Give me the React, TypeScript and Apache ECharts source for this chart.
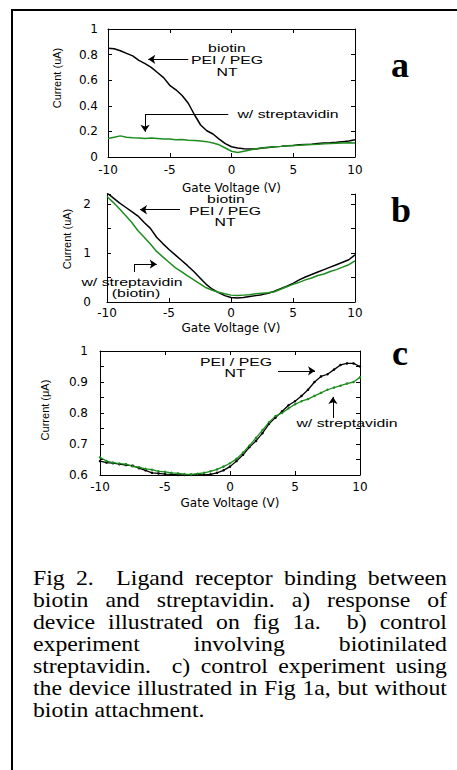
import React, { useEffect, useRef } from "react";
import * as echarts from "echarts";

// ---------- data ----------
const gateVoltage = [-10, -9.5, -9, -8.5, -8, -7.5, -7, -6.5, -6, -5.5, -5, -4.5, -4, -3.5, -3, -2.5, -2, -1.5, -1, -0.5, 0, 0.5, 1, 1.5, 2, 2.5, 3, 3.5, 4, 4.5, 5, 5.5, 6, 6.5, 7, 7.5, 8, 8.5, 9, 9.5, 10];

// panel a
const aBiotinPeiPegNT = [0.85, 0.845, 0.83, 0.81, 0.79, 0.755, 0.73, 0.7, 0.66, 0.62, 0.56, 0.525, 0.48, 0.42, 0.33, 0.25, 0.205, 0.18, 0.14, 0.105, 0.08, 0.07, 0.065, 0.062, 0.063, 0.07, 0.075, 0.08, 0.083, 0.087, 0.09, 0.095, 0.098, 0.1, 0.105, 0.11, 0.112, 0.115, 0.12, 0.125, 0.135];
const aWithStreptavidin = [0.145, 0.155, 0.165, 0.155, 0.15, 0.148, 0.145, 0.148, 0.145, 0.14, 0.14, 0.135, 0.137, 0.13, 0.128, 0.125, 0.12, 0.11, 0.095, 0.07, 0.045, 0.035, 0.045, 0.055, 0.065, 0.072, 0.077, 0.08, 0.083, 0.087, 0.09, 0.092, 0.095, 0.098, 0.1, 0.103, 0.105, 0.108, 0.11, 0.112, 0.11];

// panel b
const bBiotinPeiPegNT = [2.22, 2.12, 2.02, 1.93, 1.84, 1.75, 1.62, 1.5, 1.32, 1.19, 1.07, 0.96, 0.85, 0.74, 0.62, 0.49, 0.36, 0.26, 0.19, 0.13, 0.09, 0.08, 0.09, 0.11, 0.13, 0.15, 0.18, 0.22, 0.27, 0.32, 0.38, 0.45, 0.51, 0.56, 0.61, 0.66, 0.71, 0.76, 0.81, 0.86, 0.96];
const bWithStreptavidinBiotin = [2.15, 2.03, 1.9, 1.76, 1.62, 1.45, 1.32, 1.18, 1.03, 0.92, 0.81, 0.7, 0.62, 0.53, 0.45, 0.37, 0.29, 0.24, 0.2, 0.17, 0.14, 0.13, 0.14, 0.15, 0.17, 0.18, 0.19, 0.21, 0.26, 0.31, 0.36, 0.4, 0.45, 0.49, 0.54, 0.57, 0.62, 0.66, 0.71, 0.76, 0.84];

// panel c
const cPeiPegNT = [0.645, 0.64, 0.638, 0.635, 0.632, 0.63, 0.622, 0.615, 0.607, 0.605, 0.603, 0.602, 0.6, 0.6, 0.6, 0.601, 0.6, 0.602, 0.607, 0.615, 0.627, 0.645, 0.665, 0.69, 0.71, 0.735, 0.765, 0.785, 0.805, 0.825, 0.838, 0.855, 0.875, 0.9, 0.918, 0.925, 0.94, 0.955, 0.96, 0.96, 0.95];
const cWithStreptavidin = [0.657, 0.645, 0.64, 0.637, 0.635, 0.628, 0.625, 0.62, 0.617, 0.612, 0.61, 0.607, 0.605, 0.603, 0.602, 0.604, 0.607, 0.612, 0.618, 0.627, 0.638, 0.652, 0.672, 0.695, 0.72, 0.745, 0.77, 0.79, 0.8, 0.815, 0.828, 0.838, 0.845, 0.855, 0.865, 0.875, 0.882, 0.888, 0.895, 0.9, 0.915];

// annotation arrows, in data units: [x1, y1, x2, y2, arrowAtEnd]
const aArrows: [number, number, number, number, boolean][] = [
  [-3.5, 0.763, -6.74, 0.763, true],
  [-0.26, 0.333, -7.0, 0.333, false],
  [-7.0, 0.333, -7.0, 0.198, true],
];
const bArrows: [number, number, number, number, boolean][] = [
  [-4.11, 1.88, -7.34, 1.88, true],
  [-7.8, 0.61, -7.8, 0.77, false],
  [-7.8, 0.77, -5.99, 0.77, true],
];
const cArrows: [number, number, number, number, boolean][] = [
  [3.69, 0.936, 6.54, 0.936, true],
  [7.92, 0.784, 7.92, 0.852, true],
];

const captionLines = [
  "Fig 2.  Ligand receptor binding between",
  "biotin and streptavidin. a) response of",
  "device illustrated on fig 1a.  b) control",
  "experiment involving biotinilated",
  "streptavidin.  c) control experiment using",
  "the device illustrated in Fig 1a, but without",
  "biotin attachment.",
];

const xTitle = "Gate Voltage (V)";
const GREEN = "#1e8c1e";
const TICK_FONT = "DejaVu Sans";
const SANS = "Liberation Sans";
const SERIF = "Liberation Serif";

function pairs(ys: number[]) {
  return gateVoltage.map((x, i) => [x, ys[i]]);
}

function arrowData(list: [number, number, number, number, boolean][]) {
  return list.map(([x1, y1, x2, y2, head]) => [
    { coord: [x1, y1], symbol: "none" },
    { coord: [x2, y2], symbol: head ? "arrow" : "none" },
  ]);
}

function markLine(list: [number, number, number, number, boolean][]) {
  return {
    silent: true,
    symbol: ["none", "arrow"],
    symbolSize: [7, 7],
    label: { show: false },
    emphasis: { disabled: true },
    lineStyle: { color: "#000", width: 1, type: "solid" },
    data: arrowData(list),
  };
}

const lineAxis = { show: true, onZero: false, lineStyle: { color: "#000", width: 1 } };
const tickIn = { show: true, inside: true, length: 4, lineStyle: { color: "#000", width: 1 } };

function xBottom(gridIndex: number, margin: number, nameGap: number) {
  return {
    type: "value", gridIndex, min: -10, max: 10, interval: 5, position: "bottom",
    axisLine: lineAxis, axisTick: tickIn, splitLine: { show: false },
    axisLabel: { color: "#000", fontFamily: TICK_FONT, fontSize: 12, margin },
    name: xTitle, nameLocation: "middle", nameGap,
    nameTextStyle: { color: "#000", fontFamily: TICK_FONT, fontSize: 12 },
  };
}
function xTop(gridIndex: number) {
  return {
    type: "value", gridIndex, min: -10, max: 10, interval: 5, position: "top",
    axisLine: lineAxis, axisTick: tickIn, splitLine: { show: false }, axisLabel: { show: false },
  };
}
function yLeft(gridIndex: number, min: number, max: number, interval: number, margin: number, nameGap: number, name: string, shift: number, fmt?: (v: number) => string) {
  return {
    type: "value", gridIndex, min, max, interval, position: "left",
    axisLine: lineAxis, axisTick: tickIn, splitLine: { show: false },
    axisLabel: { color: "#000", fontFamily: TICK_FONT, fontSize: 12, margin, formatter: fmt },
    name, nameLocation: "middle", nameGap, nameRotate: 90,
    nameTextStyle: { color: "#000", fontFamily: SANS, fontSize: 11, padding: [0, 0, 0, shift] },
  };
}
function yRight(gridIndex: number, min: number, max: number, interval: number) {
  return {
    type: "value", gridIndex, min, max, interval, position: "right",
    axisLine: lineAxis, axisTick: tickIn, splitLine: { show: false }, axisLabel: { show: false },
  };
}

function annot(text: string, x: number, y: number) {
  return {
    type: "text", x, y, scaleX: 1.44, silent: true,
    style: {
      text, fill: "#000", fontFamily: SANS, fontSize: 11,
      textAlign: "center", textVerticalAlign: "middle", align: "center", verticalAlign: "middle",
    },
  };
}
function panelLetter(text: string, x: number, y: number) {
  return {
    type: "text", x, y, silent: true,
    style: {
      text, fill: "#000", fontFamily: SERIF, fontSize: 36, fontWeight: "bold",
      textAlign: "center", textVerticalAlign: "middle", align: "center", verticalAlign: "middle",
    },
  };
}

function captionElements() {
  const size = 22;
  const sx = 1.08;
  const left = 33;
  const right = 447;
  const firstBaseline = 585;
  const pitch = 22;
  const ctx = document.createElement("canvas").getContext("2d");
  const font = `${size}px "${SERIF}"`;
  if (ctx) ctx.font = font;
  const measure = (s: string) => (ctx ? ctx.measureText(s).width : s.length * size * 0.45) * sx;
  const els: any[] = [];
  captionLines.forEach((line, li) => {
    const y = firstBaseline + li * pitch - 7.5;
    const tokens = line.split(" ");
    const last = li === captionLines.length - 1;
    const widths = tokens.map((t) => (t ? measure(t) : 0));
    const sum = widths.reduce((a, b) => a + b, 0);
    const gaps = tokens.length - 1;
    const gap = last || gaps === 0 ? measure(" ") : (right - left - sum) / gaps;
    let x = left;
    tokens.forEach((t, i) => {
      if (t) {
        els.push({
          type: "text", x, y, scaleX: sx, silent: true,
          style: {
            text: t, fill: "#000", fontFamily: SERIF, fontSize: size,
            textAlign: "left", textVerticalAlign: "middle", align: "left", verticalAlign: "middle",
          },
        });
      }
      x += widths[i] + gap;
    });
  });
  return els;
}

export default function App() {
  const ref = useRef<HTMLDivElement>(null);
  useEffect(() => {
    if (!ref.current) return;
    const chart = echarts.init(ref.current, null, { renderer: "svg" });
    const fmtB = (v: number) => (Math.abs(v - Math.round(v)) < 1e-6 ? String(Math.round(v)) : "");
    const fmtC = (v: number) => {
      const t = Math.round(v * 100);
      if (t % 10 !== 0) return "";
      return t === 100 ? "1" : (t / 100).toFixed(1);
    };
    const option: any = {
      animation: false,
      backgroundColor: "#fff",
      grid: [
        { left: 108, top: 29, width: 247, height: 128 },
        { left: 107, top: 194, width: 248, height: 108 },
        { left: 100, top: 351, width: 260, height: 124 },
      ],
      xAxis: [xBottom(0, 7, 25), xTop(0), xBottom(1, 5, 20), xBottom(2, 6, 22), xTop(2)],
      yAxis: [
        yLeft(0, 0, 1, 0.2, 10, 46, "Current (uA)", 30),
        yRight(0, 0, 1, 0.2),
        yLeft(1, 0, 2.2, 0.5, 16, 35, "Current (uA)", 18, fmtB),
        yRight(1, 0, 2.2, 0.5),
        yLeft(2, 0.6, 1, 0.05, 12, 50, "Current (\u03bcA)", 6, fmtC),
        yRight(2, 0.6, 1, 0.05),
      ],
      series: [
        {
          name: "a: biotin PEI / PEG NT", type: "line", xAxisIndex: 0, yAxisIndex: 0,
          data: pairs(aBiotinPeiPegNT), showSymbol: false, lineStyle: { color: "#000", width: 1.5 },
          itemStyle: { color: "#000" }, markLine: markLine(aArrows),
        },
        {
          name: "a: w/ streptavidin", type: "line", xAxisIndex: 0, yAxisIndex: 0,
          data: pairs(aWithStreptavidin), showSymbol: false, lineStyle: { color: GREEN, width: 1.5 },
          itemStyle: { color: GREEN },
        },
        {
          name: "b: biotin PEI / PEG NT", type: "line", xAxisIndex: 2, yAxisIndex: 2,
          data: pairs(bBiotinPeiPegNT), showSymbol: false, lineStyle: { color: "#000", width: 1.5 },
          itemStyle: { color: "#000" }, markLine: markLine(bArrows),
        },
        {
          name: "b: w/ streptavidin (biotin)", type: "line", xAxisIndex: 2, yAxisIndex: 2,
          data: pairs(bWithStreptavidinBiotin), showSymbol: false, lineStyle: { color: GREEN, width: 1.5 },
          itemStyle: { color: GREEN },
        },
        {
          name: "c: PEI / PEG NT", type: "line", xAxisIndex: 3, yAxisIndex: 4,
          data: pairs(cPeiPegNT), showSymbol: true, symbol: "circle", symbolSize: 2.5,
          lineStyle: { color: "#000", width: 1.3 }, itemStyle: { color: "#000" }, markLine: markLine(cArrows),
        },
        {
          name: "c: w/ streptavidin", type: "line", xAxisIndex: 3, yAxisIndex: 4,
          data: pairs(cWithStreptavidin), showSymbol: true, symbol: "circle", symbolSize: 2.5,
          lineStyle: { color: GREEN, width: 1.3 }, itemStyle: { color: GREEN },
        },
      ],
      graphic: [
        {
          type: "rect", silent: true, z: -10,
          shape: { x: 12, y: 10, width: 520, height: 820 },
          style: { fill: "none", stroke: "#000", lineWidth: 2 },
        },
        annot("biotin", 227, 48),
        annot("PEI / PEG", 227, 60),
        annot("NT", 227, 72.5),
        annot("w/ streptavidin", 288, 114),
        annot("biotin", 226, 199.5),
        annot("PEI / PEG", 225, 211),
        annot("NT", 225, 222),
        annot("w/ streptavidin", 132, 282),
        annot("(biotin)", 136, 293.5),
        annot("PEI / PEG", 236, 362.5),
        annot("NT", 235, 373.5),
        annot("w/ streptavidin", 347, 423),
        panelLetter("a", 400, 65),
        panelLetter("b", 401, 210),
        panelLetter("c", 400, 353),
        ...captionElements(),
      ],
    };
    chart.setOption(option);
    return () => chart.dispose();
  }, []);
  return (
    <div
      ref={ref}
      style={{ position: "absolute", left: 0, top: 0, width: 457, height: 770, background: "#fff" }}
    />
  );
}
